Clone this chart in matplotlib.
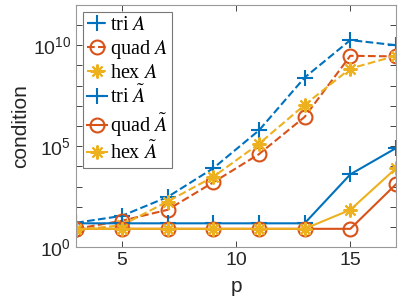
import numpy as np
import matplotlib
matplotlib.use("Agg")
import matplotlib.pyplot as plt
from matplotlib.font_manager import FontProperties

plt.rcParams['font.family'] = ['Liberation Sans', 'DejaVu Sans']
plt.rcParams['mathtext.fontset'] = 'custom'
plt.rcParams['mathtext.rm'] = 'Liberation Sans'
plt.rcParams['mathtext.it'] = 'Liberation Sans:italic'

# data
p = [3, 5, 7, 9, 11, 13, 15, 17]

tri_A = [16, 35, 300, 8e3, 6e5, 2.5e8, 1.8e10, 1e10]
quad_A = [8, 20, 70, 1.6e3, 4e4, 2.8e6, 3e9, 2.8e9]
hex_A = [7, 12, 180, 3e3, 1.3e5, 1.1e7, 7e8, 3e9]

tri_At = [15, 15, 15, 15, 15, 15, 4e3, 8e4]
quad_At = [8, 8, 8, 8, 8, 8, 8, 1.3e3]
hex_At = [8, 8, 8, 8, 8, 8, 70, 8e3]

blue = '#0072BD'
red = '#D95319'
yellow = '#EDB120'

fig = plt.figure(figsize=(4.07, 3.05), dpi=100)
ax = fig.add_axes([0.187, 0.19, 0.786, 0.794])

lw = 1.5
ms = 10
star = (8, 2, 0)  # asterisk like matlab '*'
ax.semilogy(p, tri_A, '--', color=blue, marker='+', ms=ms + 1, mew=lw, lw=lw, label=r'tri $A$')
ax.semilogy(p, quad_A, '--', color=red, marker='o', ms=ms, mew=lw, lw=lw, mfc='none', label=r'quad $A$')
ax.semilogy(p, hex_A, '--', color=yellow, marker=star, ms=ms, mew=lw, lw=lw, label=r'hex $A$')
ax.semilogy(p, tri_At, '-', color=blue, marker='+', ms=ms + 1, mew=lw, lw=lw, label=r'tri $\tilde{A}$')
ax.semilogy(p, quad_At, '-', color=red, marker='o', ms=ms, mew=lw, lw=lw, mfc='none', label=r'quad $\tilde{A}$')
ax.semilogy(p, hex_At, '-', color=yellow, marker=star, ms=ms, mew=lw, lw=lw, label=r'hex $\tilde{A}$')

ax.set_xlim(3, 17)
ax.set_ylim(1, 1e12)
ax.set_xticks([5, 10, 15])
ax.set_yticks([10.0 ** k for k in range(13)])
ax.set_yticklabels(['$10^{%d}$' % k if k % 5 == 0 else '' for k in range(13)])
ax.minorticks_off()
ax.tick_params(which='both', direction='in', top=True, right=True, length=4,
               labelsize=14, colors='#262626', width=0.6)
for s in ax.spines.values():
    s.set_color('#999999')
    s.set_linewidth(0.8)
for t in ax.get_xticklines() + ax.get_yticklines():
    t.set_color('#999999')

ax.set_xlabel('p', fontsize=15, color='#262626', labelpad=6)
ax.set_ylabel('condition', fontsize=15, color='#262626', labelpad=2)

prop = FontProperties(family='Liberation Serif', size=14.5, math_fontfamily='stix')
leg = ax.legend(loc='upper left', prop=prop, handlelength=1.0, handletextpad=0.15,
                borderpad=0.2, labelspacing=0.14, borderaxespad=0.35,
                fancybox=False, framealpha=1, edgecolor='#777777')
leg.get_frame().set_linewidth(0.8)

fig.savefig('out.png', dpi=100)
